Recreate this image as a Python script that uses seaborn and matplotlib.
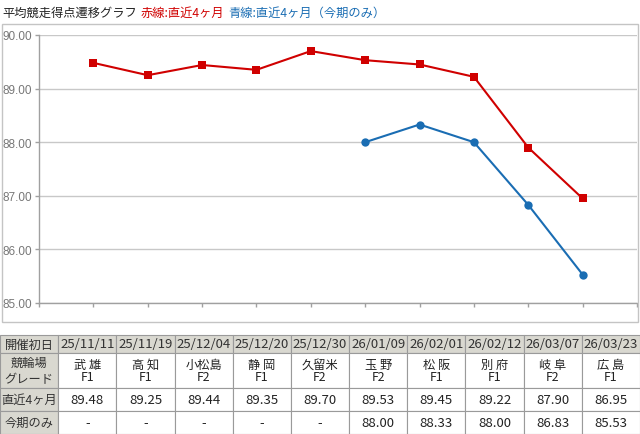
import numpy as np
import pandas as pd
import matplotlib
matplotlib.use("Agg")
import matplotlib.pyplot as plt
from matplotlib.patches import Rectangle
import seaborn as sns

# values
dates = ["25/11/11", "25/11/19", "25/12/04", "25/12/20", "25/12/30",
         "26/01/09", "26/02/01", "26/02/12", "26/03/07", "26/03/23"]
venues = ["武 雄", "高 知", "小松島", "静 岡", "久留米",
          "玉 野", "松 阪", "別 府", "岐 阜", "広 島"]
grades = ["F1", "F1", "F2", "F1", "F2", "F2", "F1", "F1", "F2", "F1"]
recent = [89.48, 89.25, 89.44, 89.35, 89.70, 89.53, 89.45, 89.22, 87.90, 86.95]
current = [None, None, None, None, None, 88.00, 88.33, 88.00, 86.83, 85.53]
y_ticks = [85, 86, 87, 88, 89, 90]
row_labels = ["開催初日", "競輪場\nグレード", "直近4ヶ月", "今期のみ"]

RED = "#d00000"
BLUE = "#1a6db3"
GRID = "#c8c8c8"
AXIS = "#a0a0a0"
CELL_GRAY = "#d9d8d0"

sns.set_style("white")
plt.rcParams["font.family"] = ["Noto Sans CJK JP", "DejaVu Sans"]

W, H = 640, 435
fig = plt.figure(figsize=(6.4, 4.35), dpi=100)

# outer frame of the chart panel
fig.patches.append(Rectangle((2 / W, 1 - 323 / H), 636 / W, 298 / H,
                             transform=fig.transFigure, fill=False,
                             ec="#c4c4c4", lw=1))

ax = fig.add_axes([39 / W, 1 - 304 / H, (637 - 39) / W, (304 - 36) / H])

# title line, three colours chained one after another
t1 = fig.text(2 / W, 1 - 20 / H, "平均競走得点遷移グラフ", fontsize=8.8, color="#222222",
              ha="left", va="bottom")
t2 = ax.annotate("赤線:直近4ヶ月", xy=(1, 0), xycoords=t1, xytext=(3, 0),
                 textcoords="offset points", fontsize=8.8, color=RED,
                 ha="left", va="bottom", annotation_clip=False)
t3 = ax.annotate("青線:直近4ヶ月（今期のみ）", xy=(1, 0), xycoords=t2, xytext=(3, 0),
                 textcoords="offset points", fontsize=8.8, color=BLUE,
                 ha="left", va="bottom", annotation_clip=False)

pos = np.arange(1, len(dates) + 1)
df = pd.DataFrame({"pos": pos, "recent": recent, "current": current})
long = df.melt(id_vars="pos", var_name="series", value_name="score").dropna()
long["score"] = long["score"].astype(float)

sns.lineplot(data=long, x="pos", y="score", hue="series", style="series",
             markers={"recent": "s", "current": "o"}, dashes=False,
             palette={"recent": RED, "current": BLUE},
             linewidth=1.5, markersize=6, markeredgewidth=0,
             legend=False, errorbar=None, ax=ax)

ax.set_xlim(0, len(dates) + 1)
ax.set_ylim(y_ticks[0], y_ticks[-1])
ax.set_yticks(y_ticks)
ax.set_yticklabels([f"{v:.2f}" for v in y_ticks])
ax.set_xticks(np.arange(0, len(dates) + 2))
ax.set_xticklabels([])
ax.set_xlabel("")
ax.set_ylabel("")
ax.grid(axis="y", color=GRID, lw=1)
ax.grid(axis="x", visible=False)
for s in ["top", "right"]:
    ax.spines[s].set_visible(False)
for s in ["left", "bottom"]:
    ax.spines[s].set_color(AXIS)
    ax.spines[s].set_linewidth(1)
ax.tick_params(axis="x", bottom=True, length=3, color=AXIS, width=1)
ax.tick_params(axis="y", left=True, length=3, color=AXIS, width=1, pad=23,
               labelsize=8.5, labelcolor="#777777", labelfontfamily="Liberation Sans")
for lab in ax.get_yticklabels():
    lab.set_ha("left")

# data table below the chart
tax = fig.add_axes([0, 0, 1, (H - 336) / H])
ncols = len(dates) + 1
row_edges = [0, 18, 53, 76, 99]
tax.set_xlim(0, ncols)
tax.set_ylim(row_edges[-1], 0)
tax.axis("off")

for r in range(len(row_labels)):
    y0, y1 = row_edges[r], row_edges[r + 1]
    for c in range(ncols):
        fc = CELL_GRAY if (r == 0 or c == 0) else "white"
        tax.add_patch(Rectangle((c, y0), 1, y1 - y0, fc=fc, ec="#9a9a9a", lw=0.8,
                                clip_on=False))

TXT = "#222222"
LBL = "#333333"
mid = [(row_edges[i] + row_edges[i + 1]) / 2 for i in range(4)]
tax.text(0.5, mid[0], row_labels[0], ha="center", va="center", fontsize=8.8, color=LBL)
tax.text(0.5, mid[1], row_labels[1], ha="center", va="center", fontsize=8.8, color=LBL,
         linespacing=1.25)
tax.text(0.5, mid[2], row_labels[2], ha="center", va="center", fontsize=8.8, color=LBL)
tax.text(0.5, mid[3], row_labels[3], ha="center", va="center", fontsize=8.8, color=LBL)

for i in range(len(dates)):
    cx = i + 1.5
    tax.text(cx, mid[0], dates[i], ha="center", va="center", fontsize=9.5, color=LBL)
    tax.text(cx, 29.5, venues[i], ha="center", va="center", fontsize=8.8, color=TXT)
    tax.text(cx, 42, grades[i], ha="center", va="center", fontsize=8.8, color=TXT)
    tax.text(cx, mid[2], f"{recent[i]:.2f}", ha="center", va="center", fontsize=9.5, color=TXT)
    cur = "-" if current[i] is None else f"{current[i]:.2f}"
    tax.text(cx, mid[3], cur, ha="center", va="center", fontsize=9.5, color=TXT)

fig.savefig("out.png", dpi=100)
